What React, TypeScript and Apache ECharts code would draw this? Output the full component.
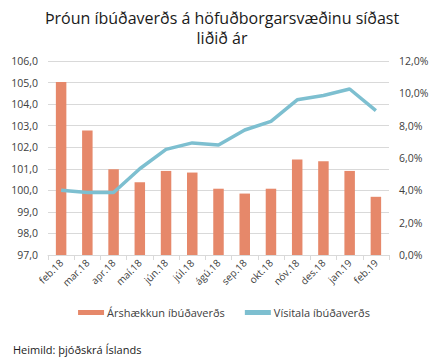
import React, { useEffect, useRef } from "react";
import * as echarts from "echarts";

const categories = ["feb.18", "mar.18", "apr.18", "maí.18", "jún.18", "júl.18", "ágú.18", "sep.18", "okt.18", "nóv.18", "des.18", "jan.19", "feb.19"];
const arshaekkun = [10.7, 7.7, 5.3, 4.5, 5.2, 5.1, 4.1, 3.8, 4.1, 5.9, 5.8, 5.2, 3.6];
const visitala = [100.0, 99.9, 99.9, 101.0, 101.9, 102.2, 102.1, 102.8, 103.2, 104.2, 104.4, 104.7, 103.7];
const titleText = "Þróun íbúðaverðs á höfuðborgarsvæðinu síðast\nliðið ár";
const sourceText = "Heimild: þjóðskrá Íslands";
const barName = "Árshækkun íbúðaverðs";
const lineName = "Vísitala íbúðaverðs";

const FONT = "'Open Sans', sans-serif";

export default function App() {
  const ref = useRef<HTMLDivElement>(null);
  useEffect(() => {
    if (!ref.current) return;
    const chart = echarts.init(ref.current, undefined, { renderer: "svg" });
    chart.setOption({
      animation: false,
      backgroundColor: "#ffffff",
      textStyle: { fontFamily: FONT },
      graphic: [
        {
          type: "text",
          x: 222,
          y: 8,
          style: {
            text: titleText,
            fontFamily: FONT,
            fontSize: 16,
            lineHeight: 20,
            fill: "#1a1a1a",
            align: "center",
            verticalAlign: "top",
          },
        },
        {
          type: "text",
          left: 13,
          top: 344,
          style: { text: sourceText, fontFamily: FONT, fontSize: 11, fill: "#1a1a1a" },
        },
      ],
      legend: {
        top: 302,
        left: "center",
        itemWidth: 26,
        itemHeight: 5,
        itemGap: 20,
        textStyle: { fontFamily: FONT, fontSize: 11, color: "#404040", padding: [0, 0, 0, -2] },
        data: [
          { name: barName, icon: "rect" },
          { name: lineName, icon: "rect", itemStyle: { color: "#7DBFD0" } },
        ],
      },
      grid: { left: 48, right: 59, top: 61, bottom: 109, containLabel: false },
      xAxis: {
        type: "category",
        data: categories,
        boundaryGap: true,
        axisLine: { show: true, lineStyle: { color: "#d9d9d9" } },
        axisTick: { show: true, length: 5, lineStyle: { color: "#d9d9d9" } },
        axisLabel: { rotate: 45, fontSize: 10, color: "#404040", margin: 6, fontFamily: FONT },
      },
      yAxis: [
        {
          type: "value",
          min: 97,
          max: 106,
          interval: 1,
          axisLine: { show: false },
          axisTick: { show: false },
          splitLine: { show: true, lineStyle: { color: "#d9d9d9", width: 1 } },
          axisLabel: {
            fontSize: 10.5,
            color: "#404040",
            margin: 10,
            fontFamily: FONT,
            formatter: (v: number) => v.toFixed(1).replace(".", ","),
          },
        },
        {
          type: "value",
          min: 0,
          max: 12,
          interval: 2,
          axisLine: { show: false },
          axisTick: { show: false },
          splitLine: { show: false },
          axisLabel: {
            fontSize: 10.5,
            color: "#404040",
            margin: 10,
            fontFamily: FONT,
            formatter: (v: number) => v.toFixed(1).replace(".", ",") + "%",
          },
        },
      ],
      series: [
        {
          name: barName,
          type: "bar",
          yAxisIndex: 1,
          data: arshaekkun,
          barWidth: "40%",
          itemStyle: { color: "#E6886A" },
        },
        {
          name: lineName,
          type: "line",
          yAxisIndex: 0,
          data: visitala,
          symbol: "none",
          showSymbol: false,
          lineStyle: { color: "#7DBFD0", width: 3.5 },
          itemStyle: { color: "#7DBFD0" },
        },
      ],
    });
    return () => chart.dispose();
  }, []);
  return (
    <div style={{ position: "fixed", left: 0, top: 0, width: 448, height: 364, background: "#fff" }}>
      <div ref={ref} style={{ width: 448, height: 364 }} />
    </div>
  );
}
